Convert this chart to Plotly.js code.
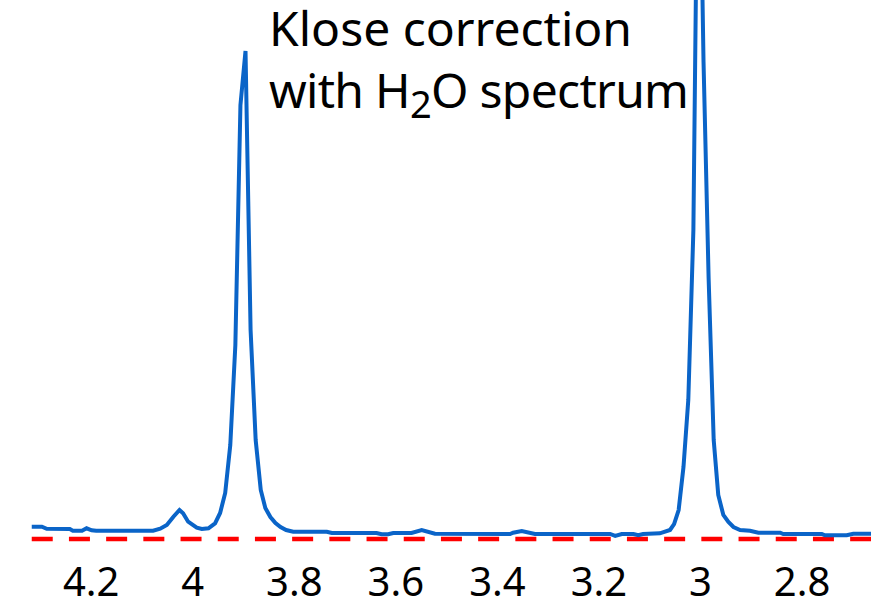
<!DOCTYPE html>
<html>
<head>
<meta charset="utf-8">
<script src="https://cdn.plot.ly/plotly-3.0.1.min.js"></script>
<style>
  html, body { margin: 0; padding: 0; background: #ffffff; }
  #chart { width: 871px; height: 602px; }
</style>
</head>
<body>
<div id="chart"></div>
<script>
// Chemical shift (ppm) of each sample in the corrected spectrum
var shiftPpm = [
  4.317, 4.297, 4.2875, 4.242, 4.236, 4.218, 4.209, 4.199, 4.190, 4.078,
  4.064, 4.051, 4.038, 4.026, 4.019, 4.009, 3.992, 3.982, 3.969, 3.956,
  3.946, 3.936, 3.926, 3.916, 3.906, 3.896, 3.886, 3.876, 3.866, 3.857,
  3.847, 3.837, 3.827, 3.816, 3.802, 3.736, 3.726, 3.638, 3.628, 3.615,
  3.605, 3.569, 3.549, 3.536, 3.523, 3.375, 3.369, 3.352, 3.339, 3.326,
  3.178, 3.168, 3.155, 3.132, 3.1225, 3.113, 3.080, 3.070, 3.060, 3.052,
  3.043, 3.0335, 3.024, 3.014, 3.004, 2.994, 2.984, 2.974, 2.965, 2.955,
  2.945, 2.935, 2.922, 2.9025, 2.886, 2.843, 2.837, 2.761, 2.755, 2.712,
  2.699, 2.656
];

// Signal amplitude at each shift (normalised)
var amplitude = [
  0.0253, 0.0253, 0.0211, 0.0205, 0.0170, 0.0170, 0.0220, 0.0179, 0.0170, 0.0170,
  0.0211, 0.0287, 0.0458, 0.0595, 0.0528, 0.0355, 0.0232, 0.0205, 0.0220, 0.0322,
  0.0534, 0.0945, 0.1930, 0.3984, 0.8912, 1.0021, 0.4292, 0.2033, 0.1006, 0.0637,
  0.0452, 0.0329, 0.0246, 0.0185, 0.0150, 0.0150, 0.0123, 0.0123, 0.0097, 0.0097,
  0.0123, 0.0123, 0.0185, 0.0144, 0.0109, 0.0103, 0.0129, 0.0164, 0.0138, 0.0103,
  0.0103, 0.0062, 0.0103, 0.0103, 0.0076, 0.0103, 0.0117, 0.0150, 0.0185, 0.0308,
  0.0595, 0.1478, 0.2854, 0.6345, 1.6200, 0.9795, 0.5359, 0.2033, 0.0903, 0.0493,
  0.0349, 0.0246, 0.0185, 0.0170, 0.0129, 0.0129, 0.0103, 0.0103, 0.0076, 0.0076,
  0.0109, 0.0109
];

// Zero reference line
var baselineX = [4.317, 2.656];
var baselineY = [0, 0];

// Axis ticks
var tickValues = [4.2, 4.0, 3.8, 3.6, 3.4, 3.2, 3.0, 2.8];
var tickLabels = ['4.2', '4', '3.8', '3.6', '3.4', '3.2', '3', '2.8'];

var labelText = 'Klose correction<br>' +
  '<span style="letter-spacing:-0.7px">with H<sub><span style="font-size:38px">2</span></sub>O spectrum</span>';

var traces = [
  {
    x: baselineX,
    y: baselineY,
    type: 'scatter',
    mode: 'lines',
    line: { color: '#ff0000', width: 4.5, dash: '21px,16.2px' },
    hoverinfo: 'skip',
    showlegend: false
  },
  {
    x: shiftPpm,
    y: amplitude,
    type: 'scatter',
    mode: 'lines',
    line: { color: '#0a64c8', width: 4 },
    showlegend: false
  }
];

var layout = {
  width: 871,
  height: 602,
  margin: { l: 0, r: 0, t: 0, b: 57, pad: 0 },
  paper_bgcolor: '#ffffff',
  plot_bgcolor: '#ffffff',
  font: { family: '"Noto Sans", "Open Sans", sans-serif', color: '#000000' },
  showlegend: false,
  xaxis: {
    range: [4.3795, 2.6642],
    tickmode: 'array',
    tickvals: tickValues,
    ticktext: tickLabels,
    showgrid: false,
    zeroline: false,
    showline: false,
    ticks: '',
    ticklabelstandoff: 10,
    tickfont: { family: '"Noto Sans", sans-serif', size: 40, color: '#000000' },
    fixedrange: true
  },
  yaxis: {
    range: [-0.01232, 1.1068],
    visible: false,
    showgrid: false,
    zeroline: false,
    fixedrange: true
  },
  annotations: [
    {
      text: labelText,
      xref: 'paper',
      yref: 'paper',
      x: 0.3061,
      y: 1.012,
      xanchor: 'left',
      yanchor: 'top',
      align: 'left',
      showarrow: false,
      font: { family: '"Noto Sans", sans-serif', size: 48, color: '#000000' }
    }
  ]
};

Plotly.newPlot('chart', traces, layout, { displayModeBar: false, staticPlot: true });
</script>
</body>
</html>
